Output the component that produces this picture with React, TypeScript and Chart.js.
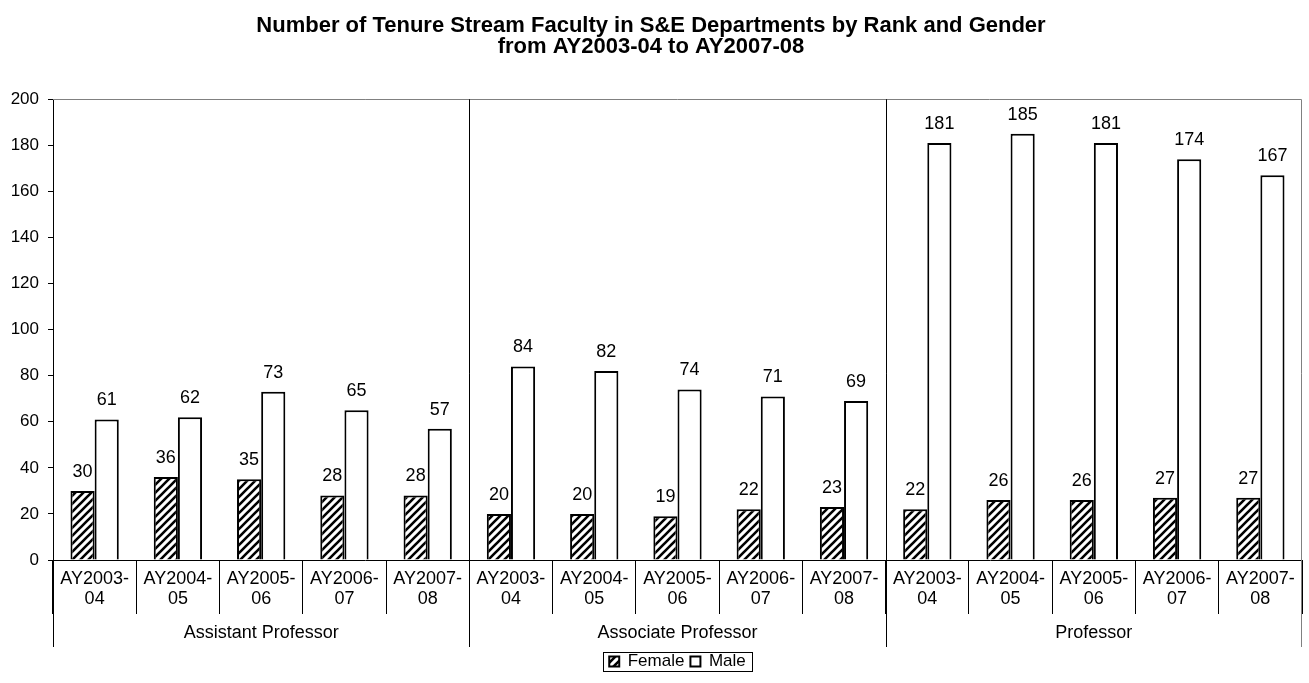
import React, { useEffect, useRef } from "react";
import { Chart, registerables } from "chart.js";

Chart.register(...registerables);

const titleLines = [
  "Number of Tenure Stream Faculty in S&E Departments by Rank and Gender",
  "from AY2003-04 to AY2007-08",
];
const ranks = ["Assistant Professor", "Associate Professor", "Professor"];
const years = [
  ["AY2003-", "04"],
  ["AY2004-", "05"],
  ["AY2005-", "06"],
  ["AY2006-", "07"],
  ["AY2007-", "08"],
];
const femaleAssistant = [30, 36, 35, 28, 28];
const femaleAssociate = [20, 20, 19, 22, 23];
const femaleProfessor = [22, 26, 26, 27, 27];
const maleAssistant = [61, 62, 73, 65, 57];
const maleAssociate = [84, 82, 74, 71, 69];
const maleProfessor = [181, 185, 181, 174, 167];
const yMin = 0;
const yMax = 200;
const yStep = 20;

const FONT = "'Liberation Sans', Arial, Helvetica, sans-serif";

export default function App() {
  const ref = useRef<HTMLCanvasElement>(null);

  useEffect(() => {
    document.body.style.margin = "0";
    const canvas = ref.current!;
    const pc = document.createElement("canvas");
    pc.width = 8;
    pc.height = 8;
    const p = pc.getContext("2d")!;
    p.fillStyle = "#ffffff";
    p.fillRect(0, 0, 8, 8);
    p.strokeStyle = "#000000";
    p.lineWidth = 2.6;
    p.beginPath();
    p.moveTo(-1, 9);
    p.lineTo(9, -1);
    p.moveTo(-3, 3);
    p.lineTo(3, -3);
    p.moveTo(5, 11);
    p.lineTo(11, 5);
    p.stroke();
    const hatch = canvas.getContext("2d")!.createPattern(pc, "repeat")!;

    const labels = ranks.flatMap(() => years);
    const female = [...femaleAssistant, ...femaleAssociate, ...femaleProfessor];
    const male = [...maleAssistant, ...maleAssociate, ...maleProfessor];

    const decor = {
      id: "decor",
      afterLayout(chart: any) {
        const lg = chart.legend;
        const ca = chart.chartArea;
        if (lg && ca) {
          const shift = (ca.left + ca.right) / 2 - (lg.left + lg.right) / 2;
          lg.left += shift;
          lg.right += shift;
        }
      },
      afterDraw(chart: any) {
        const { ctx, chartArea, scales } = chart;
        const { left, top, right, bottom } = chartArea;
        const x = scales.x;
        const axisBottom = x.bottom;
        const n = years.length;
        ctx.save();
        // plot border (top + right)
        ctx.lineWidth = 1;
        ctx.strokeStyle = "#808080";
        ctx.beginPath();
        ctx.moveTo(left, Math.round(top) + 0.5);
        ctx.lineTo(Math.round(right) - 0.5, Math.round(top) + 0.5);
        ctx.lineTo(Math.round(right) - 0.5, axisBottom);
        ctx.stroke();
        // group separators
        for (let g = 0; g < ranks.length; g++) {
          const i = g * n;
          const xp =
            i === 0 ? left : (x.getPixelForValue(i - 1) + x.getPixelForValue(i)) / 2;
          const y0 = g === 0 ? bottom : top;
          ctx.strokeStyle = "#000000";
          ctx.beginPath();
          ctx.moveTo(Math.round(xp) + 0.5, y0);
          ctx.lineTo(Math.round(xp) + 0.5, axisBottom);
          ctx.stroke();
        }
        // group labels
        ctx.fillStyle = "#000000";
        ctx.font = `18px ${FONT}`;
        ctx.textAlign = "center";
        ctx.textBaseline = "middle";
        for (let g = 0; g < ranks.length; g++) {
          const cx = (x.getPixelForValue(g * n) + x.getPixelForValue(g * n + n - 1)) / 2;
          ctx.fillText(ranks[g], cx, axisBottom - 14);
        }
        // data labels
        ctx.font = `18px ${FONT}`;
        chart.data.datasets.forEach((ds: any, di: number) => {
          const meta = chart.getDatasetMeta(di);
          meta.data.forEach((el: any, j: number) => {
            ctx.fillText(String(ds.data[j]), el.x, el.y - 19);
          });
        });
        // legend border
        const lg = chart.legend;
        if (lg && lg.legendHitBoxes && lg.legendHitBoxes.length) {
          const hb = lg.legendHitBoxes;
          const l = Math.min(...hb.map((h: any) => h.left)) - 6;
          const r = Math.max(...hb.map((h: any) => h.left + h.width)) + 6;
          const t = Math.min(...hb.map((h: any) => h.top)) - 1;
          const b = Math.max(...hb.map((h: any) => h.top + h.height)) + 1;
          ctx.strokeStyle = "#000000";
          ctx.lineWidth = 1;
          ctx.strokeRect(Math.round(l) + 0.5, Math.round(t) + 0.5, Math.round(r - l), Math.round(b - t));
        }
        ctx.restore();
      },
    };

    const chart = new Chart(canvas, {
      type: "bar",
      data: {
        labels,
        datasets: [
          {
            label: "Female",
            data: female,
            backgroundColor: hatch,
            borderColor: "#000000",
            borderWidth: 2,
            categoryPercentage: 0.58,
            barPercentage: 1.0,
          },
          {
            label: "Male",
            data: male,
            backgroundColor: "#ffffff",
            borderColor: "#000000",
            borderWidth: 2,
            categoryPercentage: 0.58,
            barPercentage: 1.0,
          },
        ],
      },
      options: {
        animation: false,
        responsive: true,
        maintainAspectRatio: false,
        layout: { padding: { left: 0, right: 7, top: 0, bottom: 3 } },
        plugins: {
          title: {
            display: true,
            text: titleLines,
            color: "#000000",
            font: { family: FONT, size: 22, weight: "bold", lineHeight: 0.96 },
            padding: { top: 15, bottom: 42 },
          },
          legend: {
            position: "bottom",
            labels: {
              color: "#000000",
              font: { family: FONT, size: 17 },
              boxWidth: 10,
              boxHeight: 10,
              padding: 6,
            },
          },
          tooltip: { enabled: false },
        },
        scales: {
          x: {
            type: "category",
            offset: true,
            grid: {
              offset: true,
              drawOnChartArea: false,
              drawTicks: true,
              tickLength: 54,
              color: "#000000",
            },
            border: { display: true, color: "#000000", width: 1 },
            ticks: {
              color: "#000000",
              font: { family: FONT, size: 18, lineHeight: 1.12 },
              padding: -45,
              maxRotation: 0,
              autoSkip: false,
            },
            afterFit: (s: any) => {
              s.height = 87;
            },
          },
          y: {
            min: yMin,
            max: yMax,
            grid: {
              drawOnChartArea: false,
              drawTicks: true,
              tickLength: 5,
              color: "#000000",
            },
            border: { display: true, color: "#000000", width: 1 },
            ticks: {
              stepSize: yStep,
              color: "#000000",
              font: { family: FONT, size: 17 },
              padding: 9,
            },
            afterFit: (s: any) => {
              s.width = 53;
            },
          },
        },
      },
      plugins: [decor],
    });

    return () => chart.destroy();
  }, []);

  return (
    <div style={{ position: "fixed", left: 0, top: 0, width: 1309, height: 683 }}>
      <canvas ref={ref} />
    </div>
  );
}
